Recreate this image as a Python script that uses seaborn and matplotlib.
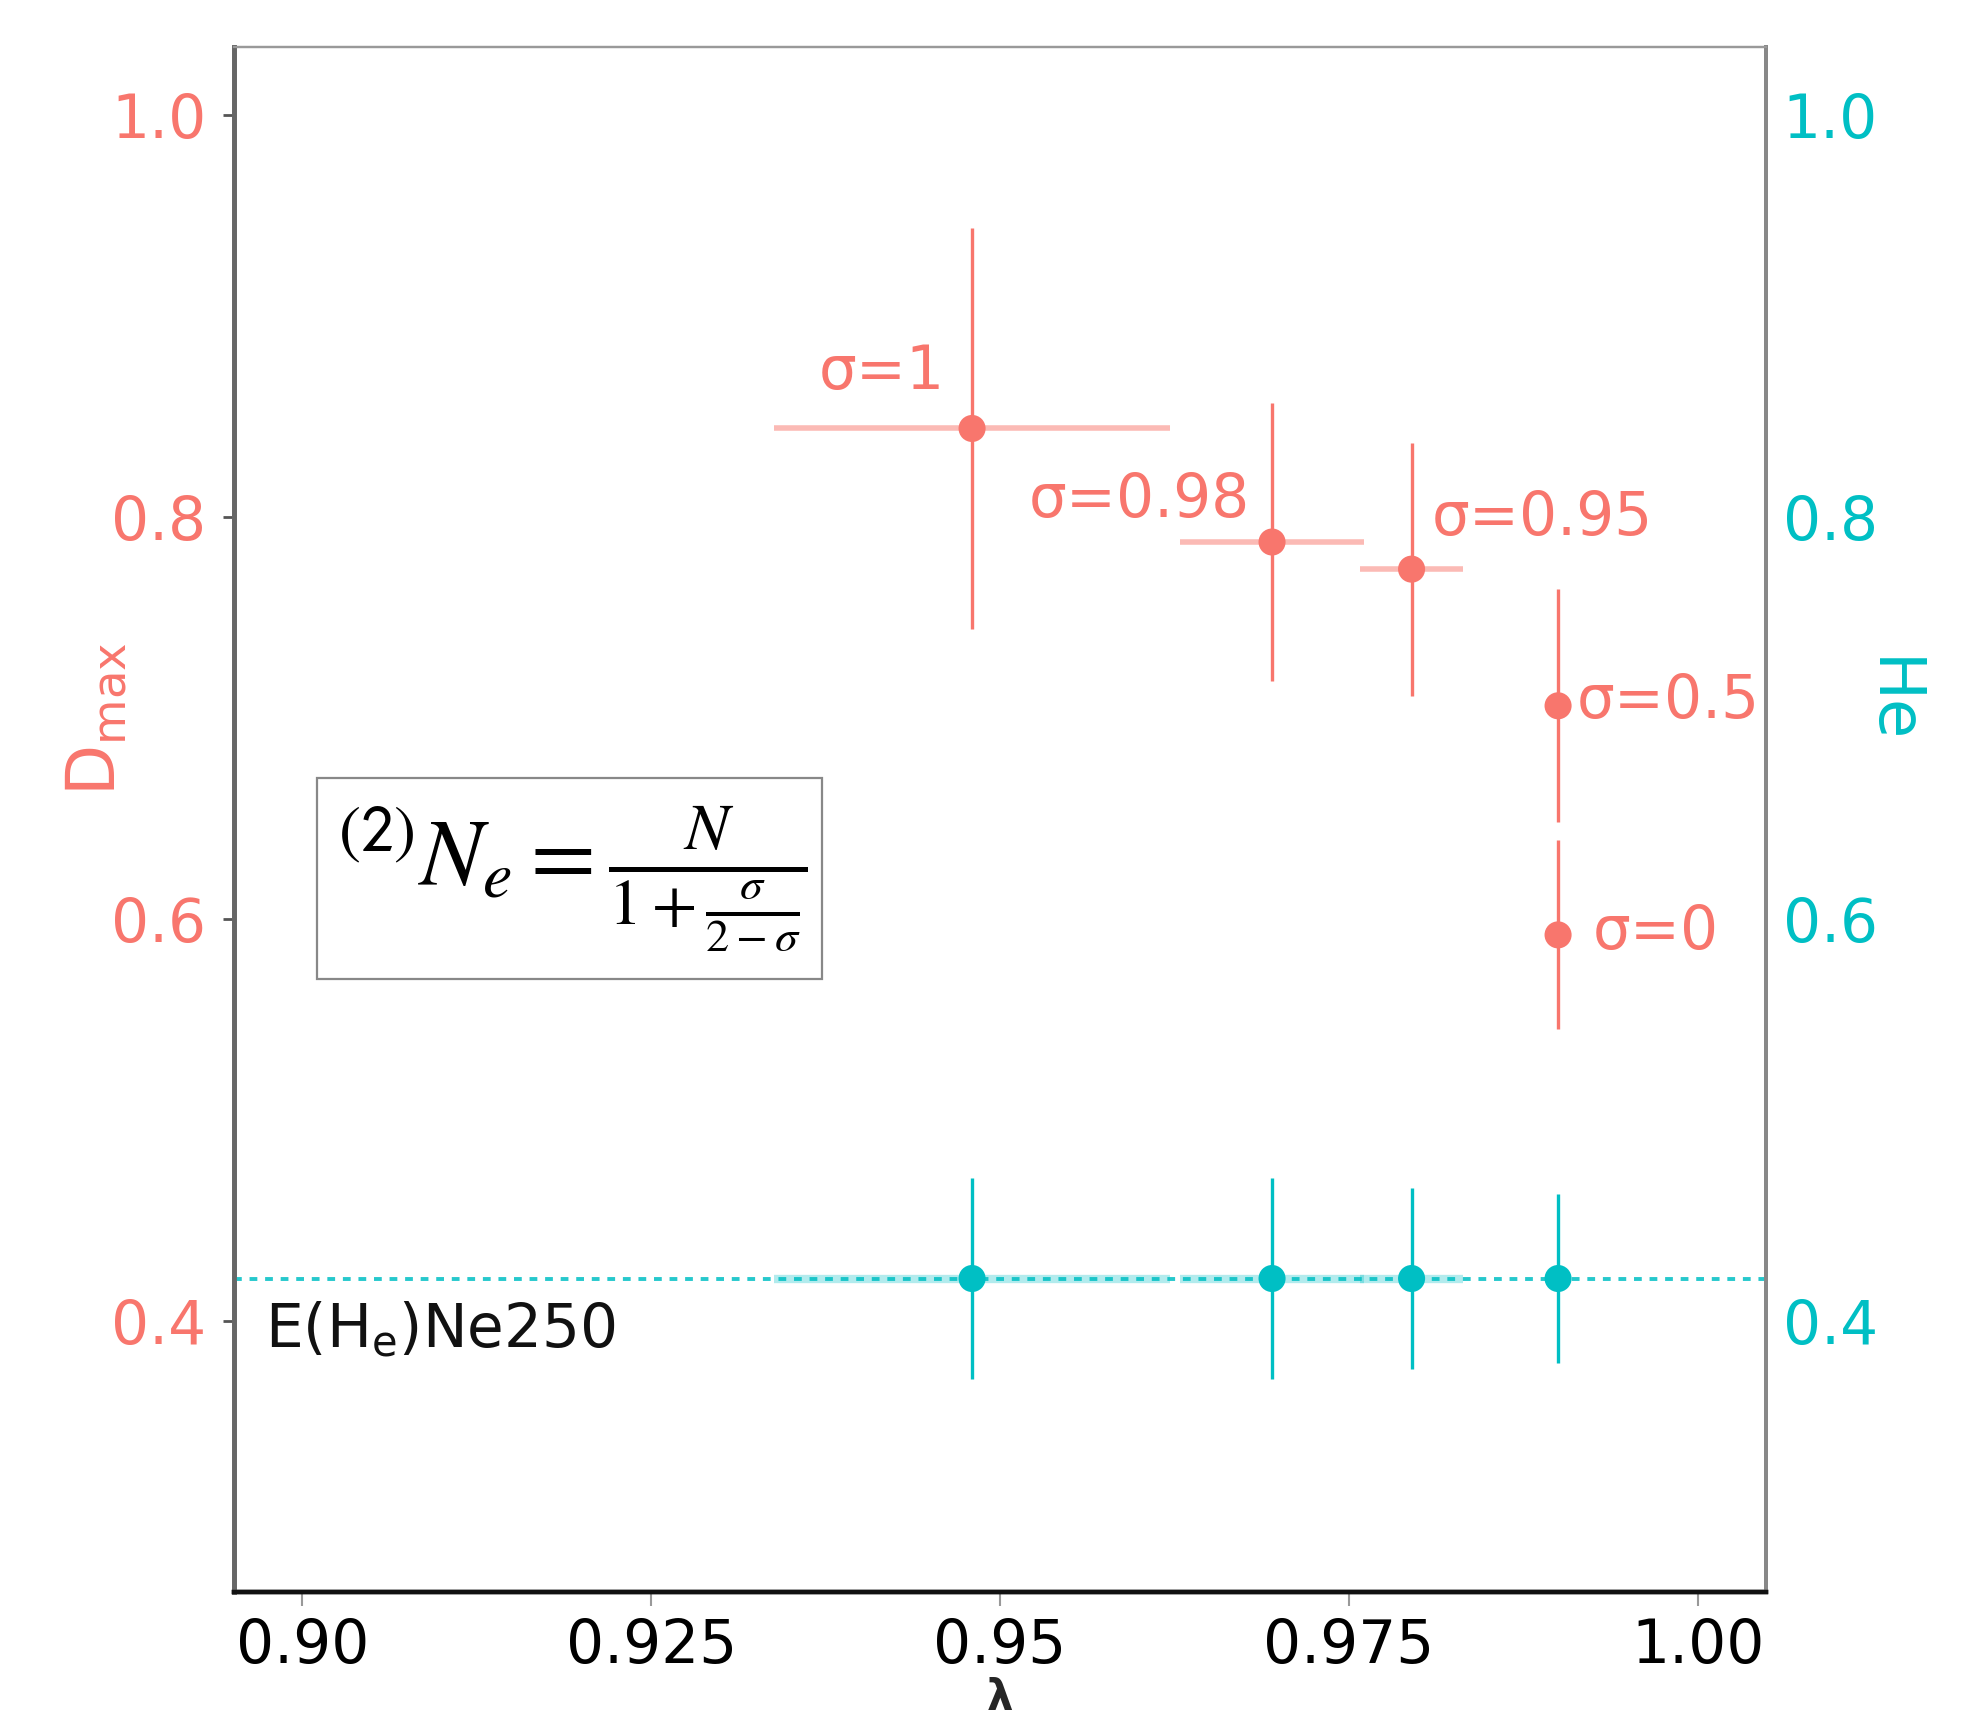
import numpy as np
import pandas as pd
import matplotlib
matplotlib.use("Agg")
import matplotlib.pyplot as plt
from matplotlib.patches import Rectangle
import seaborn as sns

# ---- data ----
lam = [0.948, 0.9695, 0.9795, 0.990, 0.990]
lam_err = [0.0142, 0.0066, 0.0037, 0.0, 0.0]
dmax = [0.844, 0.7875, 0.774, 0.706, 0.592]
dmax_err = [0.100, 0.069, 0.063, 0.058, 0.047]
sigma_labels = ["σ=1", "σ=0.98", "σ=0.95", "σ=0.5", "σ=0"]
label_x = [0.9415, 0.9600, 0.9889, 0.9979, 0.9970]
label_y = [0.872, 0.808, 0.799, 0.708, 0.593]

he_lam = [0.948, 0.9695, 0.9795, 0.990]
he_lam_err = [0.0142, 0.0066, 0.0037, 0.0]
he = [0.421, 0.421, 0.421, 0.421]
he_err = [0.050, 0.050, 0.045, 0.042]
he_expected = 0.421

x_ticks = [0.90, 0.925, 0.95, 0.975, 1.00]
x_ticklabels = ["0.90", "0.925", "0.95", "0.975", "1.00"]
y_ticks = [0.4, 0.6, 0.8, 1.0]
y_ticklabels = ["0.4", "0.6", "0.8", "1.0"]

RED = "#F8766D"
CYAN = "#00BFC4"

sns.set_style("white")
plt.rcParams["font.family"] = ["DejaVu Sans"]
plt.rcParams["mathtext.fontset"] = "dejavusans"

df_d = pd.DataFrame({"lam": lam, "dmax": dmax})
df_h = pd.DataFrame({"lam": he_lam, "he": he})

fig = plt.figure(figsize=(19.78, 17.28), dpi=100)
ax = fig.add_axes([0.1183, 0.0787, 0.7745, 0.8943])
ax2 = ax.twinx()

FS = 43

# red series (left axis)
ax.errorbar(lam, dmax, xerr=lam_err, fmt="none", ecolor=RED, alpha=0.5,
            elinewidth=4, capsize=0, zorder=2)
ax.errorbar(lam, dmax, yerr=dmax_err, fmt="none", ecolor=RED,
            elinewidth=2.4, capsize=0, zorder=2)
sns.scatterplot(data=df_d, x="lam", y="dmax", ax=ax, color=RED, s=380,
                edgecolor="none", zorder=3, legend=False)
for t, xx, yy in zip(sigma_labels, label_x, label_y):
    ax.text(xx, yy, t, color=RED, fontsize=FS, ha="center", va="center")

# cyan series (right axis)
ax2.axhline(he_expected, color=CYAN, ls=(0, (2.0, 2.0)), lw=2.8, alpha=0.85, zorder=1)
ax2.errorbar(he_lam, he, xerr=he_lam_err, fmt="none", ecolor=CYAN, alpha=0.3,
             elinewidth=6, capsize=0, zorder=2)
ax2.errorbar(he_lam, he, yerr=he_err, fmt="none", ecolor=CYAN,
             elinewidth=2.4, capsize=0, zorder=2)
sns.scatterplot(data=df_h, x="lam", y="he", ax=ax2, color=CYAN, s=380,
                edgecolor="none", zorder=3, legend=False)

# axes limits & ticks
for a in (ax, ax2):
    a.set_ylim(0.265, 1.034)
    a.set_yticks(y_ticks)
ax.set_xlim(0.8951, 1.0049)
ax.set_xticks(x_ticks)
ax.set_xticklabels(x_ticklabels, fontsize=FS, color="black")
ax.set_yticklabels(y_ticklabels, fontsize=FS, color=RED)
ax2.set_yticklabels(y_ticklabels, fontsize=FS, color=CYAN)

ax.tick_params(axis="y", length=8, width=2, color="#555555", pad=12, left=True)
ax.tick_params(axis="x", length=10, width=1.5, color="#999999", pad=8, bottom=True)
ax2.tick_params(axis="y", length=0, pad=12, right=True)

ax.set_xlabel("λ", fontsize=30, fontweight="bold", labelpad=1)
ax.set_ylabel(r"D$_{\rm max}$", fontsize=48, color=RED)
ax.yaxis.set_label_coords(-0.068, 0.565)
ax2.set_ylabel("He", fontsize=46, color=CYAN, rotation=270)
ax2.yaxis.set_label_coords(1.1015, 0.577)

# spines
for a in (ax, ax2):
    a.spines["left"].set_color("#666666")
    a.spines["left"].set_linewidth(3.4)
    a.spines["right"].set_color("#888888")
    a.spines["right"].set_linewidth(2.8)
    a.spines["top"].set_color("#999999")
    a.spines["top"].set_linewidth(1.6)
    a.spines["bottom"].set_color("#111111")
    a.spines["bottom"].set_linewidth(3.2)

# annotation text
ax.text(0.020, 0.169, r"E(H$_{\rm e}$)Ne250", transform=ax.transAxes,
        fontsize=FS, color="#111111", ha="left", va="center")

# formula box
ax.add_patch(Rectangle((0.054, 0.397), 0.330, 0.130, transform=ax.transAxes,
                       fill=True, facecolor="white", edgecolor="#888888",
                       lw=1.6, zorder=4))
ax.text(0.221, 0.462,
        r"${}^{\mathsf{(2)}}N_e=\frac{N}{1+\frac{\sigma}{2-\sigma}}$",
        transform=ax.transAxes, fontsize=68, color="black",
        ha="center", va="center", math_fontfamily="stix", zorder=5)

fig.savefig("out.png", dpi=100)
